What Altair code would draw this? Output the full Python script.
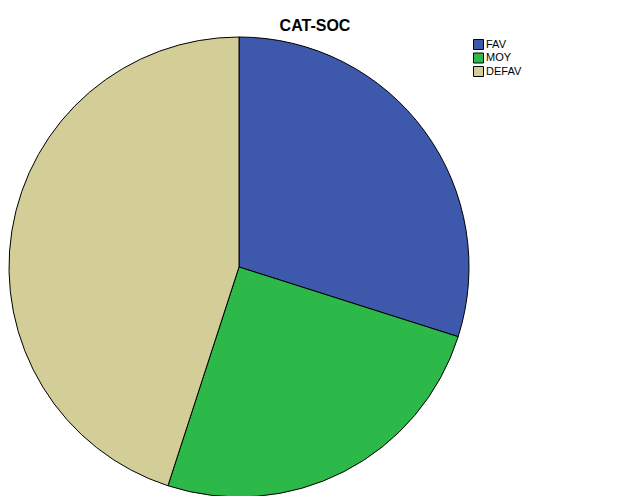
import altair as alt
import pandas as pd

categories = ["FAV", "MOY", "DEFAV"]
values = [29.9, 25.1, 45.0]
colors = ["#3E58AC", "#2DB84A", "#D3CE97"]

df = pd.DataFrame({"cat": categories, "val": values, "ord": [0, 1, 2]})

pie = alt.Chart(df).mark_arc(
    radius=230, stroke="black", strokeWidth=1
).encode(
    theta=alt.Theta("val:Q", stack=True),
    order=alt.Order("ord:Q"),
    x=alt.value(231),
    y=alt.value(259),
    color=alt.Color(
        "cat:N",
        sort=categories,
        scale=alt.Scale(domain=categories, range=colors),
        legend=alt.Legend(
            title=None, orient="none", legendX=465, legendY=31,
            symbolType="square", symbolSize=100, symbolStrokeColor="black",
            symbolStrokeWidth=1, symbolOpacity=1,
            labelFont="Arial", labelFontSize=11, labelColor="black",
            labelOffset=2, rowPadding=-1.5, padding=0,
        ),
    ),
)

title = alt.Chart(pd.DataFrame({"t": ["CAT-SOC"]})).mark_text(
    font="Arial", fontSize=16, fontWeight="bold", color="black"
).encode(text="t:N", x=alt.value(307), y=alt.value(18))

chart = alt.layer(pie, title).properties(
    width=613, height=488, padding=0, background="white",
    autosize=alt.AutoSizeParams(type="none"),
).configure_view(stroke="transparent", strokeWidth=0)

chart.save("out.html", embed_options={"renderer": "svg", "actions": False})
